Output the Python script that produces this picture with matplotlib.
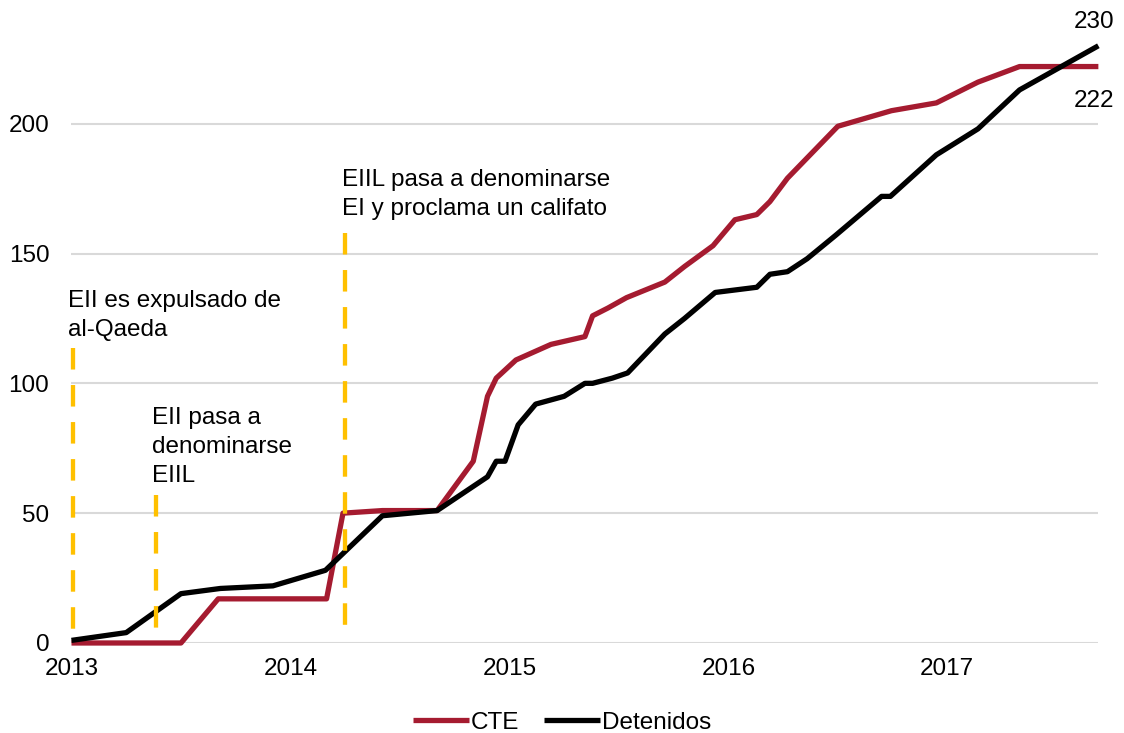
import matplotlib
matplotlib.use("Agg")
import matplotlib.pyplot as plt

plt.rcParams['font.family'] = ['Liberation Sans', 'DejaVu Sans']

# CTE series (decimal years, cumulative count)
cte_x = [2013.0, 2013.50, 2013.67, 2014.165, 2014.24, 2014.42, 2014.67, 2014.835,
         2014.90, 2014.94, 2015.03, 2015.19, 2015.345, 2015.38, 2015.45, 2015.535,
         2015.71, 2015.80, 2015.93, 2016.03, 2016.13, 2016.19, 2016.27, 2016.50,
         2016.745, 2016.95, 2017.14, 2017.33, 2017.69]
cte_y = [0, 0, 17, 17, 50, 51, 51, 70,
         95, 102, 109, 115, 118, 126, 129, 133,
         139, 145, 153, 163, 165, 170, 179, 199,
         205, 208, 216, 222, 222]

# Detenidos series
det_x = [2013.0, 2013.25, 2013.50, 2013.68, 2013.92, 2014.16, 2014.42, 2014.67,
         2014.90, 2014.94, 2014.98, 2015.04, 2015.12, 2015.25, 2015.345, 2015.38,
         2015.47, 2015.54, 2015.71, 2015.80, 2015.94, 2016.13, 2016.19, 2016.27,
         2016.36, 2016.49, 2016.70, 2016.74, 2016.95, 2017.14, 2017.33, 2017.69]
det_y = [1, 4, 19, 21, 22, 28, 49, 51,
         64, 70, 70, 84, 92, 95, 100, 100,
         102, 104, 119, 125, 135, 137, 142, 143,
         148, 157, 172, 172, 188, 198, 213, 230]

# events marked with dashed lines
event_x = [2013.005, 2013.385, 2014.25]
event_top = [113.5, 57, 158]
event_bottom = [5, 5.5, 6.5]
event_text = ["EII es expulsado de\nal-Qaeda",
              "EII pasa a\ndenominarse\nEIIL",
              "EIIL pasa a denominarse\nEI y proclama un califato"]
event_text_x = [2012.985, 2013.366, 2014.234]
event_text_y = [136, 91, 182.5]

year_ticks = [2013, 2014, 2015, 2016, 2017]
y_ticks = [0, 50, 100, 150, 200]

red = "#A51B30"
gold = "#FFC000"
fs = 17.5

fig = plt.figure(figsize=(11.24, 7.33), dpi=100)
ax = fig.add_axes([0.0636, 0.1228, 0.9136, 0.836])

ax.plot(cte_x, cte_y, color=red, lw=3.8, label="CTE", zorder=3,
        solid_capstyle='butt', clip_on=False)
ax.plot(det_x, det_y, color="black", lw=3.8, label="Detenidos", zorder=4,
        solid_capstyle='butt', clip_on=False)

for x, top, bot in zip(event_x, event_top, event_bottom):
    ax.plot([x, x], [top, bot], color=gold, lw=3.1, dashes=(5.0, 3.6),
            zorder=5, clip_on=False)

for tx, ty, t in zip(event_text_x, event_text_y, event_text):
    ax.text(tx, ty, t, ha='left', va='top', fontsize=fs, linespacing=1.42)

# end labels
ax.annotate(str(det_y[-1]), xy=(det_x[-1], det_y[-1]), xytext=(-3, 17),
            textcoords='offset points', ha='center', va='center',
            fontsize=fs, annotation_clip=False)
ax.annotate(str(cte_y[-1]), xy=(cte_x[-1], cte_y[-1]), xytext=(-3, -25),
            textcoords='offset points', ha='center', va='center',
            fontsize=fs, annotation_clip=False)

ax.set_xlim(2013.0, 2017.69)
ax.set_ylim(0, 236)
ax.set_xticks(year_ticks)
ax.set_xticklabels([str(y) for y in year_ticks])
ax.set_yticks(y_ticks)
ax.tick_params(axis='both', length=0, labelsize=fs)
ax.tick_params(axis='x', pad=11)
ax.tick_params(axis='y', pad=16)
ax.grid(axis='y', color="#d9d9d9", lw=1.5)
ax.set_axisbelow(True)
for s in ax.spines.values():
    s.set_visible(False)

ax.legend(loc='center', bbox_to_anchor=(0.5, 0.014), bbox_transform=fig.transFigure,
          ncol=2, frameon=False, fontsize=fs, handlelength=2.3, handletextpad=0.1,
          columnspacing=1.0)

fig.savefig("out.png", dpi=100)
